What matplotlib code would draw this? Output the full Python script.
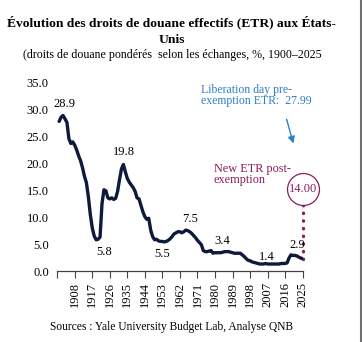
import numpy as np
import matplotlib
matplotlib.use("Agg")
from matplotlib import pyplot as plt

plt.rcParams['font.family'] = ['Liberation Serif', 'DejaVu Serif']

# effective tariff rate, trade weighted, %
years = np.arange(1900, 2026)
etr = [27.8, 28.6, 28.9, 28.3, 27.6, 24.6, 23.7, 24.0, 23.4, 22.5,
       21.4, 20.5, 19.2, 17.6, 16.4, 13.8, 10.5, 8.0, 6.5, 5.8,
       5.9, 6.3, 12.5, 15.1, 14.9, 13.6, 13.4, 13.6, 13.3, 13.5,
       14.8, 17.0, 19.0, 19.8, 18.4, 17.2, 16.5, 16.0, 15.5, 14.8,
       13.6, 13.4, 12.2, 11.0, 10.1, 9.6, 9.8, 7.6, 6.4, 5.8,
       5.9, 5.6, 5.5, 5.5, 5.4, 5.5, 5.7, 6.0, 6.4, 6.9,
       7.1, 7.3, 7.3, 7.1, 7.3, 7.6, 7.5, 7.3, 7.0, 6.6,
       6.2, 5.7, 5.3, 4.9, 3.8, 3.6, 3.6, 3.7, 3.8, 3.3,
       3.4, 3.4, 3.4, 3.4, 3.5, 3.6, 3.6, 3.6, 3.5, 3.4,
       3.3, 3.3, 3.3, 3.3, 3.0, 2.7, 2.3, 2.0, 1.9, 1.7,
       1.6, 1.5, 1.4, 1.3, 1.3, 1.3, 1.4, 1.3, 1.3, 1.3,
       1.3, 1.3, 1.3, 1.3, 1.4, 1.4, 1.4, 1.5, 2.4, 3.0,
       2.9, 2.9, 2.8, 2.6, 2.4, 2.3]

# labelled points: (year, text, x offset px, y offset px)
point_labels = [(1902, "28.9", 1, 12), (1933, "19.8", 0, 12),
                (1919, "5.8", 8, -12), (1953, "5.5", 0, -13),
                (1966, "7.5", 2, 12), (1980, "3.4", 7, 12),
                (2006, "1.4", 1, 6), (2020, "2.9", 4, 10)]

pre_exemption = 27.99
post_exemption = 14.00

tick_years = np.arange(1899, 2026, 9)

navy = "#0e1a3c"
blue = "#2f7fc8"
plum = "#8a1c5c"

fig = plt.figure(figsize=(3.62, 3.42), dpi=100)
ax = fig.add_axes([0.158, 0.2076, 0.678, 0.5506])

ax.plot(years, etr, color=navy, lw=2.4, solid_capstyle="round", zorder=3)

for yr, txt, dx, dy in point_labels:
    ax.annotate(txt, (yr, etr[yr - years[0]]), xytext=(dx, dy),
                textcoords="offset pixels", ha="center", va="center",
                fontsize=9, color="black", annotation_clip=False)

# post-exemption rate: dotted riser from the last year, circled value
ax.plot([years[-1], years[-1]], [etr[-1], post_exemption], color=plum,
        lw=2.4, linestyle=(0, (0.1, 2.2)), dash_capstyle="round",
        zorder=2, clip_on=False)
ax.plot(years[-1], post_exemption + 1.2, marker="o", ms=23, mfc="white",
        mec=plum, mew=0.9, zorder=4, clip_on=False)
ax.text(years[-1], post_exemption + 1.2, f"{post_exemption:.2f}",
        ha="center", va="center", fontsize=9, color=plum, zorder=5)
ax.text(1979.4, 17.9, "New ETR post-\nexemption", ha="left", va="center",
        fontsize=8.8, color=plum, linespacing=0.95)

ax.text(1972.7, 32.6, f"Liberation day pre-\nexemption ETR:  {pre_exemption:.2f}",
        ha="left", va="center", fontsize=8.5, color=blue, linespacing=0.95)
ax.annotate("", xy=(2020.6, 23.2), xytext=(2016.4, 28.7),
            arrowprops=dict(arrowstyle="-|>", color=blue, lw=1.0,
                            mutation_scale=10), annotation_clip=False)

ax.set_xlim(1899, 2025)
ax.set_ylim(0, 35)
ax.set_yticks(np.arange(0, 36, 5))
ax.set_yticklabels([f"{v:.1f}" for v in np.arange(0, 36, 5)])
ax.set_xticks(tick_years)
ax.set_xticklabels([""] + [str(y) for y in tick_years[1:]], rotation=90)
ax.tick_params(axis="y", length=0, labelsize=9, pad=6)
ax.tick_params(axis="x", length=5, width=0.8, color="#444444",
               labelsize=9, pad=3)
for side in ["top", "right", "left"]:
    ax.spines[side].set_visible(False)
ax.spines["bottom"].set_color("#444444")
ax.spines["bottom"].set_linewidth(0.9)

fig.text(0.475, 0.933, "Évolution des droits de douane effectifs (ETR) aux États-",
         ha="center", va="center", fontsize=9.7, fontweight="bold")
fig.text(0.475, 0.883, "Unis", ha="center", va="center", fontsize=9.7,
         fontweight="bold")
fig.text(0.475, 0.839, "(droits de douane pondérés  selon les échanges, %, 1900–2025",
         ha="center", va="center", fontsize=8.6)
fig.text(0.475, 0.045, "Sources : Yale University Budget Lab, Analyse QNB",
         ha="center", va="center", fontsize=8.3)

# thin frame edge on the right
fig.add_artist(plt.Line2D([0.9965, 0.9965], [0, 1], color="#707070", lw=1.5,
                          transform=fig.transFigure))

fig.savefig("out.png", dpi=100)
